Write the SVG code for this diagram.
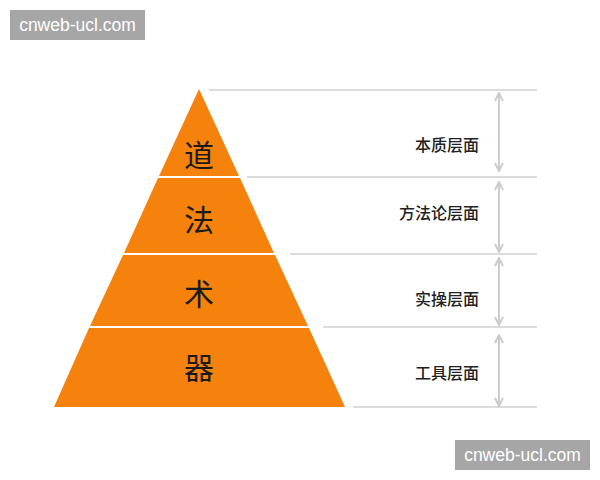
<svg xmlns="http://www.w3.org/2000/svg" width="600" height="480" viewBox="0 0 600 480">
<style>
.tier{fill:#f5820c;}
.big{font-family:"Noto Sans CJK SC","Noto Sans",sans-serif;font-size:30px;font-weight:400;fill:#1a1a1a;text-anchor:middle;dominant-baseline:central;}
.lbl{font-family:"Noto Sans CJK SC","Noto Sans",sans-serif;font-size:16px;font-weight:500;fill:#222;text-anchor:end;dominant-baseline:central;}
.guide{stroke:#dcdcdc;stroke-width:2;fill:none;}
.dim{stroke:#cccccc;stroke-width:2;fill:none;marker-start:url(#ah);marker-end:url(#ah);}
.wm{fill:#a6a6a6;}
.wmt{font-family:"Liberation Sans",Arial,sans-serif;font-size:17.5px;fill:#ffffff;text-anchor:middle;dominant-baseline:central;}
</style>
<defs>
<marker id="ah" viewBox="0 0 10 10" refX="9" refY="5" markerWidth="5" markerHeight="5" orient="auto-start-reverse" markerUnits="strokeWidth">
<path d="M1,1 L9,5 L1,9" fill="none" stroke="#cccccc" stroke-width="2"/>
</marker>
</defs>
<rect width="600" height="480" fill="#ffffff"/>
<g id="tier-dao">
<polygon class="tier" points="199,89 239,176 159,176"/>
<text class="big" x="199" y="153">道</text>
</g>
<g id="tier-fa">
<polygon class="tier" points="158,178 240,178 274,253 124,253"/>
<text class="big" x="199" y="218">法</text>
</g>
<g id="tier-shu">
<polygon class="tier" points="123,255 275,255 308,326 90,326"/>
<text class="big" x="199" y="292">术</text>
</g>
<g id="tier-qi">
<polygon class="tier" points="89,328 309,328 345,407 54,407"/>
<text class="big" x="199" y="366">器</text>
</g>
<g id="connectors">
<line class="guide" x1="209" y1="90" x2="537" y2="90"/>
<line class="guide" x1="247" y1="177" x2="537" y2="177"/>
<line class="guide" x1="290" y1="254" x2="537" y2="254"/>
<line class="guide" x1="323" y1="327" x2="537" y2="327"/>
<line class="guide" x1="353" y1="407" x2="537" y2="407"/>
<line class="dim" x1="499" y1="93" x2="499" y2="171"/>
<line class="dim" x1="499" y1="182" x2="499" y2="252"/>
<line class="dim" x1="499" y1="258" x2="499" y2="325"/>
<line class="dim" x1="499" y1="335" x2="499" y2="406"/>
</g>
<g id="label-benzhi"><text class="lbl" x="479" y="144">本质层面</text></g>
<g id="label-fangfalun"><text class="lbl" x="479" y="212">方法论层面</text></g>
<g id="label-shicao"><text class="lbl" x="479" y="298">实操层面</text></g>
<g id="label-gongju"><text class="lbl" x="479" y="372">工具层面</text></g>
<g id="watermark-top">
<rect class="wm" x="10" y="10" width="135" height="30"/>
<text class="wmt" x="77.5" y="25">cnweb-ucl.com</text>
</g>
<g id="watermark-bottom">
<rect class="wm" x="455" y="440" width="135" height="30"/>
<text class="wmt" x="522.5" y="455">cnweb-ucl.com</text>
</g>
</svg>
